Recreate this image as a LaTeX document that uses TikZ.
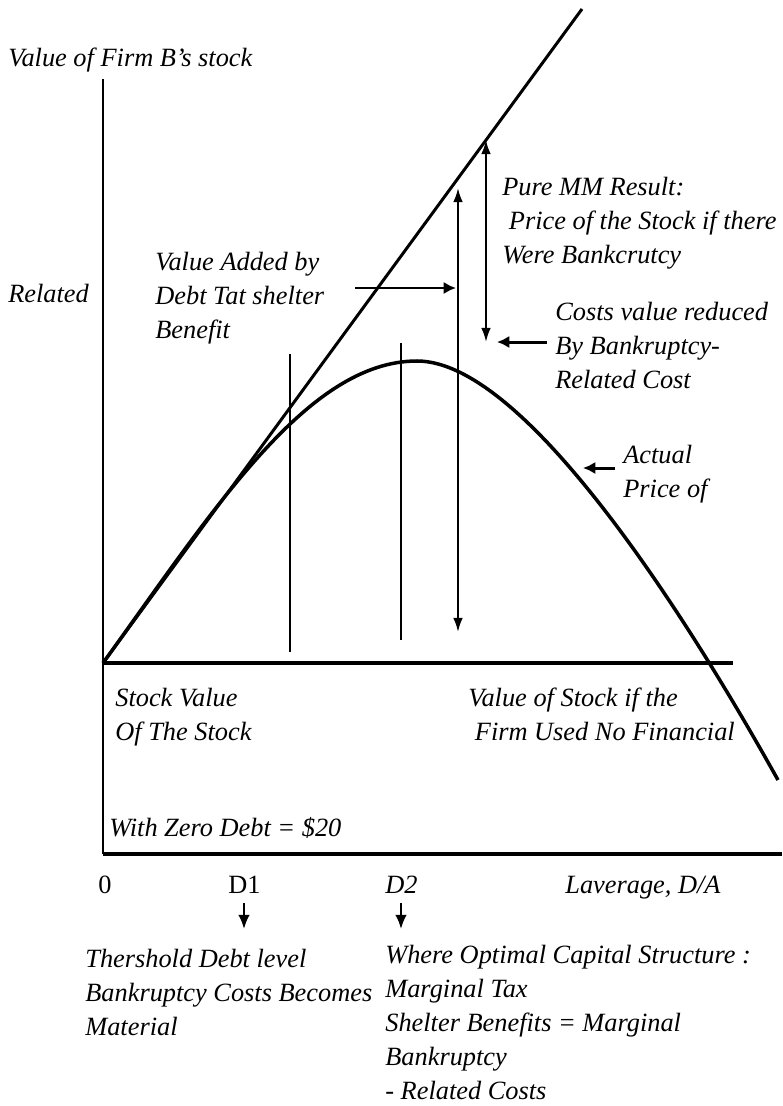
\documentclass[tikz,border=0pt]{standalone}
\usepackage{fontspec}
\setmainfont{Liberation Serif}
\usetikzlibrary{arrows.meta,calc}

\begin{document}
\begin{tikzpicture}[x=0.02cm,y=-0.02cm,
  lbl/.style={anchor=base west,inner sep=0pt,align=left,
    font=\itshape\fontsize{15}{19.3}\selectfont},
  tick/.style={anchor=base west,inner sep=0pt,font=\fontsize{15}{19.3}\selectfont},
  pointer/.style={line width=1.7pt,-{Latex[length=7pt,width=7pt]}},
  span/.style={line width=1.2pt,{Latex[length=8pt,width=5.5pt]}-{Latex[length=8pt,width=5.5pt]}},
  drop/.style={line width=1.2pt,-{Latex[length=8pt,width=6.5pt]}}]

\useasboundingbox (0,0) rectangle (782,1106);

\coordinate (O) at (103,663);
\coordinate (Ytop) at (103,79);
\coordinate (Ybot) at (103,854);
\coordinate (Xend) at (782,854);
\coordinate (Bend) at (733,663);
\coordinate (Ltop) at (582,9);
\coordinate (P) at (417,361);
\coordinate (Cend) at (778,780);

% axes and base line
\draw[line width=1.2pt] (Ytop) -- (Ybot);
\draw[line width=2.8pt] (Ybot) -- (Xend);
\draw[line width=2.2pt] (O) -- (Bend);

% MM line and actual price curve
\draw[line width=1.7pt] (O) -- (Ltop);
\draw[line width=2pt] (O) .. controls (213,511) and (307,361) .. (P)
  .. controls (530,361) and (700,640) .. (Cend);

% D1 and D2 markers
\coordinate (d1t) at (290,354);
\coordinate (d1b) at (290,652);
\coordinate (d2t) at (401,343);
\coordinate (d2b) at (401,640);
\draw[line width=1.2pt] (d1t) -- (d1b);
\draw[line width=1.2pt] (d2t) -- (d2b);

% value spans
\coordinate (a1t) at (458,188);
\coordinate (a1b) at (458,632);
\coordinate (a2t) at (486,140);
\coordinate (a2b) at (486,342);
\draw[span] (a1b) -- (a1t);
\draw[span] (a2t) -- (a2b);

% labels (base = last line)
\node[lbl] (ylab) at (8,66) {Value of Firm B’s stock};
\node[lbl] (rel) at (8,302) {Related};
\node[lbl] (added) at (155,338) {Value Added by\\Debt Tat shelter\\Benefit};
\node[lbl] (mm) at (502,263) {Pure MM Result:\\\ Price of the Stock if there\\Were Bankcrutcy};
\node[lbl] (costs) at (555,388) {Costs value reduced\\By Bankruptcy-\\Related Cost};
\node[lbl] (actual) at (623,497) {Actual\\Price of};
\node[lbl] (stock) at (115,740) {Stock Value\\Of The Stock};
\node[lbl] (nofin) at (468,740) {Value of Stock if the\\\ Firm Used No Financial};
\node[lbl] (zero) at (109,836) {With Zero Debt = \$20};

% pointers
\coordinate (p1s) at (355,288);
\coordinate (p1e) at (456,288);
\coordinate (p2s) at (547,342);
\coordinate (p2e) at (497,342);
\coordinate (p3s) at (615,468);
\coordinate (p3e) at (583,468);
\draw[pointer] (p1s) -- (p1e);
\draw[pointer] (p2s) -- (p2e);
\draw[pointer] (p3s) -- (p3e);

% x axis ticks
\node[tick] (x0) at (98,893) {0};
\node[tick] (xd1) at (228,893) {D1};
\node[lbl] (xd2) at (385,893) {D2};
\node[lbl] (xlab) at (565,893) {Laverage, D/A};

\coordinate (q1s) at (244,903);
\coordinate (q1e) at (244,929);
\coordinate (q2s) at (401,903);
\coordinate (q2e) at (401,929);
\draw[drop] (q1s) -- (q1e);
\draw[drop] (q2s) -- (q2e);

\node[lbl] (thr) at (85,1035) {Thershold Debt level\\Bankruptcy Costs Becomes\\Material};
\node[lbl] (opt) at (385,1099) {Where Optimal Capital Structure :\\Marginal Tax\\Shelter Benefits = Marginal\\Bankruptcy\\- Related Costs};

\end{tikzpicture}
\end{document}
